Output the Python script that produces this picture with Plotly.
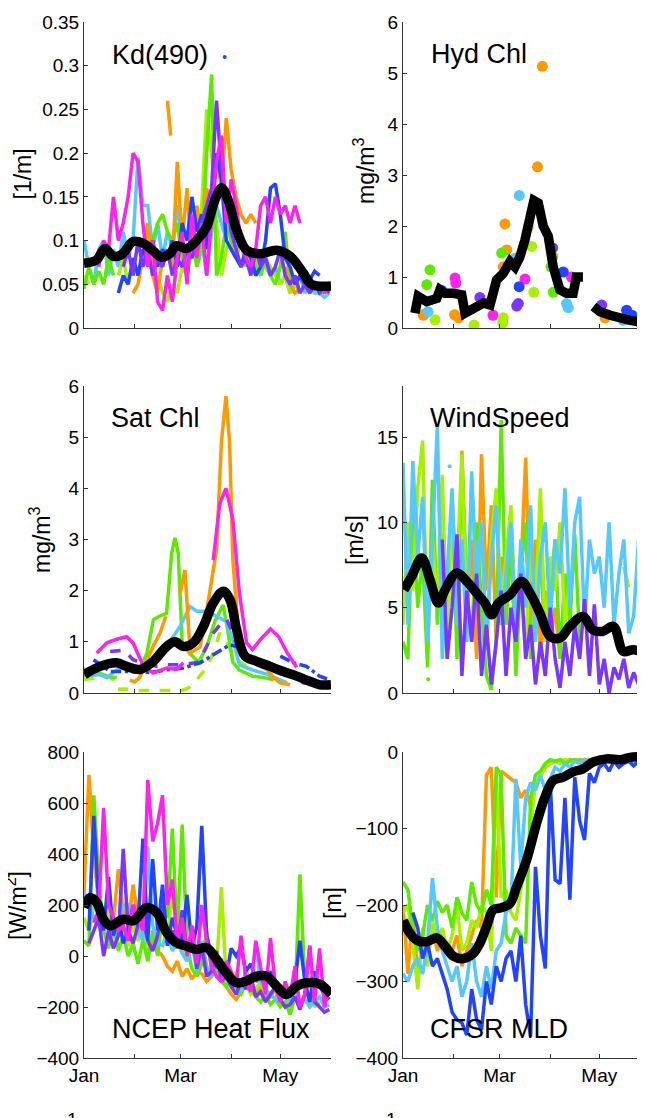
import plotly.graph_objects as go

# The page body has an 8 px margin, so the figure is drawn from page (8, 8)
# and sized so that it ends exactly at the 645 x 1118 window edge.
PAGE_W, PAGE_H = 645, 1118
OFF = 8
W, H = PAGE_W - OFF, PAGE_H - OFF
FONT = "Liberation Sans, Arial, Helvetica, sans-serif"

ORANGE = '#FF9900'
LIME = '#A6F000'
GREEN = '#5CEB00'
SKY = '#55C8FF'
BLUE = '#2244FF'
PURPLE = '#7A35FF'
MAGENTA = '#FF22EE'
BLACK = '#000000'

# ---------------- axis ticks ----------------
MONTH_TICKS = [0, 31, 59, 90, 120, 151]
MONTH_LABELS = ['Jan', '', 'Mar', '', 'May', '']
DAYS = list(range(0, 151, 3))   # sampling days (day of year - 1)

KD_TICKS = [0, 0.05, 0.1, 0.15, 0.2, 0.25, 0.3, 0.35]
KD_LABELS = ['0', '0.05', '0.1', '0.15', '0.2', '0.25', '0.3', '0.35']
CHL_TICKS = [0, 1, 2, 3, 4, 5, 6]
CHL_LABELS = ['0', '1', '2', '3', '4', '5', '6']
WIND_TICKS = [0, 5, 10, 15]
WIND_LABELS = ['0', '5', '10', '15']
HF_TICKS = [-400, -200, 0, 200, 400, 600, 800]
HF_LABELS = ['\u2212400', '\u2212200', '0', '200', '400', '600', '800']
MLD_TICKS = [-400, -300, -200, -100, 0]
MLD_LABELS = ['\u2212400', '\u2212300', '\u2212200', '\u2212100', '0']

# ---------------- Kd(490) ----------------
kd_magenta = [None, None, None, 0.07, 0.10, 0.09, 0.15, 0.10, 0.12, 0.15,
              0.20, 0.19, 0.12, 0.07, 0.10, 0.03, 0.02, 0.06, 0.03, 0.08,
              0.11, 0.05, 0.13, 0.08, 0.12, 0.06, 0.13, 0.19, 0.22, 0.12,
              0.17, 0.14, 0.10, 0.08, 0.07, 0.09, 0.14, 0.15, 0.12, 0.15,
              0.13, 0.14, 0.12, 0.14, 0.12, None, None, None, 0.05, 0.04, 0.05]
kd_sky = [0.10, 0.07, 0.05, 0.09, 0.10, 0.06, 0.09, 0.07, 0.11, 0.08,
          0.10, 0.195, 0.14, 0.14, 0.09, 0.12, 0.08, 0.11, 0.09, 0.14,
          0.10, 0.07, 0.12, 0.09, 0.10, 0.06, 0.11, 0.14, 0.12, 0.10,
          0.09, 0.08, 0.10, 0.07, 0.09, 0.06, 0.08, 0.07, 0.06, 0.07,
          0.05, 0.06, 0.04, 0.05, 0.06, 0.04, 0.05, 0.04, 0.04, 0.035, 0.04]
kd_orange = [None, None, None, None, None, None, None, None, None, None,
             0.04, 0.05, 0.08, 0.12, 0.06, 0.04, 0.08, None, 0.07, 0.19,
             0.10, 0.16, 0.08, 0.14, 0.10, 0.16, 0.12, 0.20, 0.16, 0.24,
             0.18, 0.15, 0.13, 0.12, 0.13, 0.12, None, None, None, None,
             None, 0.07, 0.05, 0.04, 0.045, None, None, None, None, None, None]
kd_orange_dash_days = [51, 53]
kd_orange_dash = [0.26, 0.22]
kd_green = [0.045, 0.07, 0.05, 0.065, 0.05, 0.08, 0.06, None, None, None,
            None, None, 0.09, 0.07, 0.10, 0.12, 0.13, 0.11, 0.10, 0.12,
            0.08, 0.06, 0.10, 0.07, 0.09, 0.20, 0.29, 0.06, 0.08, 0.12,
            0.10, 0.09, 0.10, 0.08, 0.09, 0.07, 0.06, 0.08, 0.06, 0.05,
            0.07, 0.11, 0.05, 0.04, None, None, None, None, None, None, None]
kd_lime = [0.06, 0.05, None, None, None, None, None, 0.06, 0.08, 0.05,
           None, None, None, None, None, 0.06, 0.04, 0.03, 0.05, 0.04,
           0.07, 0.06, 0.09, 0.08, 0.14, 0.25, 0.20, 0.12, 0.06, 0.09,
           0.10, 0.08, 0.11, 0.09, 0.07, 0.08, 0.06, 0.08, 0.07, 0.06,
           0.05, 0.06, 0.04, 0.05, 0.04, None, None, None, None, None, None]
kd_blue = [None, None, None, None, None, None, None, 0.04, 0.06, 0.05,
           0.08, 0.06, 0.09, 0.08, 0.10, 0.07, 0.09, 0.08, 0.10, 0.07,
           0.12, 0.10, 0.15, 0.11, 0.13, 0.09, 0.15, 0.20, 0.17, 0.10,
           0.09, 0.08, 0.07, 0.09, 0.08, 0.06, 0.07, 0.10, 0.16, 0.165,
           0.13, 0.08, 0.07, 0.05, 0.06, 0.05, 0.055, 0.065, 0.06, None, 0.06]
kd_blue_dot_days = [86]
kd_blue_dot = [0.31]
kd_purple = [None, None, None, None, None, None, None, None, 0.07, 0.09,
             0.06, 0.10, 0.07, 0.09, 0.06, 0.08, 0.07, 0.09, 0.06, 0.08,
             0.07, 0.09, 0.08, 0.10, 0.12, 0.14, 0.16, 0.26, 0.18, 0.15,
             0.11, 0.09, 0.07, 0.08, 0.06, 0.09, 0.07, 0.08, 0.06, 0.07,
             0.09, 0.06, 0.05, 0.06, 0.04, 0.05, 0.04, 0.05, 0.04, 0.045, 0.04]
kd_mean_days = [0, 7.7, 12.8, 17.9, 23, 30, 36, 42.4, 47.4, 52.5, 56.5, 62.7, 68.8,
                75, 80, 84.1, 88.2, 93.3, 99.4, 107.6, 117.8, 126, 134, 139, 151]
kd_mean = [0.074, 0.078, 0.091, 0.082, 0.084, 0.099, 0.097, 0.088, 0.081, 0.085, 0.094,
           0.091, 0.100, 0.116, 0.146, 0.160, 0.146, 0.112, 0.089, 0.085, 0.089,
           0.082, 0.063, 0.050, 0.048]

# ---------------- Hydrographic chlorophyll (bottle samples) ----------------
hyd_orange_days = [12.4, 13.5, 31.5, 34, 61.3, 62.3, 63.4, 82.2, 85.2, 123.5]
hyd_orange = [0.25, 0.28, 0.26, 0.2, 1.2, 2.04, 1.53, 3.16, 5.13, 0.2]
hyd_sky_days = [15.3, 68.5, 71.1, 100, 101, 134.6]
hyd_sky = [0.32, 1.37, 2.6, 0.48, 0.4, 0.15]
hyd_green_days = [14.5, 16.5, 60.3, 90.5, 91.5, 91.8]
hyd_green = [0.85, 1.14, 1.47, 1.2, 1.4, 0.7]
hyd_lime_days = [19.6, 43.4, 61, 61.3, 76.6, 78.6, 80]
hyd_lime = [0.16, 0.06, 0.1, 0.2, 1.98, 1.6, 0.7]
hyd_purple_days = [23.6, 47, 69.5, 70.5, 91.5, 121.5, 145]
hyd_purple = [0.74, 0.6, 0.43, 0.48, 1.57, 0.45, 0.1]
hyd_magenta_days = [31.8, 32.3, 52, 55, 74.6, 103, 146]
hyd_magenta = [0.98, 0.88, 0.49, 0.25, 0.96, 1.0, 0.15]
hyd_blue_days = [71, 98, 136.7, 140]
hyd_blue = [0.81, 1.1, 0.35, 0.25]
hyd_mean_days = [7.3, 9.3, 14.5, 20.6, 22.6, 25.7, 30.8, 35.9, 37.9, 43, 49.1, 53.2, 57.2,
                 61.3, 65.4, 68.4, 71.4, 74.5, 77.6, 80, 82.7, 85.7, 88.8, 91.8, 95.9,
                 100, 104, 106, 110, 113, 116.4, 120.5, 126.6, 132.7, 138.8, 148]
hyd_mean = [0.29, 0.62, 0.52, 0.58, 0.75, 0.68, 0.68, 0.65, 0.29, 0.39, 0.49, 0.45, 0.94,
            1.07, 1.3, 1.2, 1.39, 1.72, 2.24, 2.5, 2.45, 2.0, 1.8, 1.2, 0.75,
            0.68, 0.68, 1.0, 1.0, None, 0.42, 0.32, 0.25, 0.18, 0.15, 0.1]

# ---------------- Satellite chlorophyll ----------------
sat_orange_days = [28, 31, 34, 38.5, 42, 46.5, 50, 55, 58.8, 61.7, 64.9, 68, 71, 76, 81,
                   84, 86.8, 89, 91, 95, 100, 106, 111.7, 116, 120, 126]
sat_orange = [0.25, 0.22, 0.3, 0.65, 0.9, 1.17, 1.5, None, 1.95, 2.4, 0.78, 0.85, 0.9,
              1.8, 2.8, 4.9, 5.8, 4.9, 2.6, 0.98, 0.65, 0.55, 0.46, 0.3, 0.2, 0.16]
sat_magenta_days = [7.8, 14, 20, 26, 30, 36.3, 42.4, 50.5, 56.7, 60.7, 70, 79, 83, 86.8,
                    91, 95, 99.4, 103, 108, 114, 119, 124, 130]
sat_magenta = [0.78, 0.98, 1.05, 1.1, 0.98, 0.52, 0.39, 0.49, 0.46, 0.59, None, 2.6, 3.7,
               4.0, 3.4, 1.95, 0.98, 0.85, 1.05, 1.25, 1.1, 0.8, 0.5]
sat_green_days = [0, 7, 14, 20, 28, 36, 38.5, 42.4, 46, 50.5, 53.6, 55.6, 57.6, 60, 64, 70,
                  75, 80, 85, 88, 91, 95, 103, 110, 116]
sat_green = [0.47, 0.42, 0.33, 0.3, None, 0.6, 0.78, 1.43, 1.5, 1.56, 2.73, 3.03, 2.73,
             1.0, 0.8, 0.6, 0.9, 1.4, 1.72, 1.2, 0.6, 0.45, 0.33, 0.3, 0.26]
sat_lime_days = [0, 8, 14, 18, 20, 25, 32, 40, 50, 55, 60, 64, 70, 75, 79, 83, 87, 92, 100]
sat_lime = [0.26, 0.3, 0.33, 0.26, 0.07, 0.08, 0.05, 0.05, 0.05, 0.06, 0.05, 0.1, 0.3,
            0.5, 0.78, 1.17, 1.0, 0.7, 0.5]
sat_sky_days = [0, 10, 14, 20, 25, 35, 42, 50.5, 58.7, 64.9, 69, 75, 81, 87, 91, 95,
                103, 111.7, 118, 124]
sat_sky = [0.33, 0.36, 0.3, 0.45, 0.5, 0.45, 0.6, 0.91, 1.3, 1.69, 1.6, 1.6, 1.5, 1.4,
           1.04, 0.55, 0.45, 0.37, 0.28, 0.2]
sat_purple_days = [16, 24.4, 30, 34.6, 44.8, 50.5, 60, 70, 79, 83, 87, 91, 95, 104, 111.7,
                   120, 128, 134, 144]
sat_purple = [0.81, 0.84, 0.65, 0.6, 0.52, 0.55, 0.55, 0.6, 1.17, 1.33, 1.45, 1.17, 0.78,
              0.7, 0.6, 0.5, 0.36, 0.2, 0.16]
sat_blue_days = [5.8, 16, 26, 40, 50, 60.7, 71, 81, 89, 95, 105, 120, 128, 136, 144, 150]
sat_blue = [0.65, 0.42, 0.42, 0.4, 0.45, 0.49, 0.59, 0.78, 0.94, 0.9, None, 0.72, 0.59,
            0.52, 0.33, 0.26]
sat_mean_days = [0.2, 9.8, 20, 26, 34.2, 42.4, 50.5, 55.6, 60.7, 66.8, 73, 79, 85.2, 89.3,
                 93.3, 98.4, 105.5, 113.7, 121.8, 130, 138, 144.3, 151]
sat_mean = [0.36, 0.52, 0.59, 0.52, 0.46, 0.62, 0.91, 1.0, 0.91, 0.98, 1.3, 1.76, 1.99,
            1.82, 1.24, 0.72, 0.62, 0.52, 0.42, 0.33, 0.23, 0.16, 0.16]

# ---------------- Wind speed ----------------
wind_sky = [13.5, 4, 13.6, 8, 11.5, 3, 9, 15.7, 2, 7,
            12, 4, 9, 3, 13, 6, 10, 2.5, 8, 11,
            4, 7, 10, 3, 9, 5, 11, 3, 8, 10,
            4, 9, 7, 12, 5, 10, 11.5, 4, 9, 7,
            8, 5, 10, 4, 7, 9, 3.5, 4.5, 9, 5, 8]
wind_lime = [4, 10, 6, 12, 14.8, 3, 9, 5, 12.8, 3,
             11, 7, 14, 4, 12.5, 6, 10, 3, 9, 12,
             5, 8, 11, 4, 7, 2.5, 9, 5, 12, 3,
             8, 6, 10, 4, 7, None, None, None, None, None,
             None, None, None, None, None, 7.4, 6.2, None, None, None, None]
wind_green = [3, 2, 11, 5, 8, 1.5, 12.5, 4, 9.5, 3,
              11.8, 2, 14, 6, 3, 10, 5, 1, 0.2, 3,
              16, 4, 9, 1, 7, 10, 2, 5, 8, 3,
              6, 9, 2, 7, 4, 9.3, 3, None, None, None,
              None, None, None, None, None, None, None, None, None, None, None]
wind_orange = [None, None, None, None, None, None, None, None, None, None,
               None, None, 14.2, 4, 9, 2, 14, 6, 11, 3,
               8, 5, 10, 3, 7, 13.8, 4, 9, 2, 6,
               3, 5, 2, None, None, None, None, None, None, None,
               None, None, None, None, None, None, None, None, None, None, None]
wind_purple = [None, None, None, None, None, None, None, None, 9, 2,
               5, 9.3, 1, 6, 3, 7, 1, 4, 0.5, 3,
               6, 1, 5, 3, 7, 2, 4, 0.5, 3, 1,
               5, 2, 0.3, 3, 1, 4, 2, 5.5, 1, 5.2,
               0.5, 2, 0, 1.5, 0.8, 2, 0.3, 1.2, 0.5, 1.3, 0.8]
wind_dot_sky_days = [28.5]
wind_dot_sky = [13.3]
wind_dot_green_days = [15.4]
wind_dot_green = [0.8]
wind_mean_days = [0.6, 5.3, 11.4, 16.5, 21.6, 25.7, 32.8, 39, 45, 50.1, 54.2, 58.3, 65.4,
                  72.5, 77.6, 83.7, 89.8, 95.9, 102, 110, 116, 122, 128.6, 134.7, 140.8, 148]
wind_mean = [6.05, 6.84, 7.91, 6.64, 5.27, 6.05, 7.03, 6.54, 5.86, 5.27, 4.59, 5.27, 5.76,
             6.54, 5.86, 4.69, 3.32, 3.22, 3.91, 4.49, 3.71, 3.61, 3.91, 2.44, 2.54, 2.34]

# ---------------- NCEP heat flux ----------------
hf_orange = [250, 710, 400, 200, 150, 230, 140, 340, 180, 120,
             280, 150, 60, 30, 50, 20, 0, -40, -60, -20,
             -80, -50, -90, -60, -70, -100, -80, -50, -90, -120,
             -150, -170, -140, -100, -130, -150, -120, -140, -160, -130,
             -180, -150, -200, -160, -180, -170, -190, -150, None, None, None]
hf_green = [60, 40, 630, 300, 100, 30, 150, 20, 80, 0,
            50, -30, 60, -20, 100, 0, 200, 150, 500, 80,
            515, 40, -50, -80, -30, 100, -60, -40, -100, -120,
            -80, -140, -150, -100, -130, -160, -180, -150, -190, -170,
            -200, -180, -230, -160, 320, -100, -190, -170, -200, None, None]
hf_lime = [150, 100, 200, 260, 120, 180, 50, 150, 100, 40,
           120, 60, 200, 30, 80, 20, 150, 60, 250, 100,
           60, -20, 80, -60, 30, -70, -30, -50, 270, -100,
           -120, -60, -140, -110, -150, -130, -100, -170, -150, -120,
           -180, -200, -160, -140, -190, -150, -120, -200, -180, None, None]
hf_sky = [250, 200, 150, 120, 180, 100, 80, 120, 200, 200,
          150, 100, 60, 430, 120, 50, 40, 100, 20, 60,
          10, -20, 50, -60, 60, -40, -80, 0, -60, -90,
          -120, -100, -140, -50, -120, 40, -100, -130, -150, -170,
          -120, -160, -180, -150, -190, -170, -200, -180, -160, -200, -190]
hf_blue = [None, 100, 550, 200, 100, 310, 80, 150, 50, 100,
           200, 120, 460, 60, 380, 100, 280, 40, 150, 80,
           60, 240, 30, 120, 510, 80, 0, -40, -20, -80,
           30, 0, 35, -60, -30, -100, -80, -120, -60, -100,
           -150, -120, -160, -100, 60, -100, -180, -60, -120, -150, -170]
hf_purple = [None, 50, 100, 150, 0, 100, 30, 80, 420, 100,
             50, 120, 150, 60, 20, 80, 200, 50, 100, 30,
             180, 10, 100, -50, 40, -80, -60, 20, -100, -80,
             -120, -150, -100, -130, -80, -160, -140, -180, -150, -120,
             -170, -200, -190, -160, -210, -150, 40, -180, -200, -220, -210]
hf_magenta = [None, None, 130, 180, 580, 200, 150, 100, 120, 60,
              200, 150, 100, 690, 450, 520, 630, 200, 300, 50,
              150, 0, 120, -30, 200, 60, -40, -80, -100, -20,
              -60, -120, 80, -100, -140, 60, -50, -150, 70, -120,
              -180, -100, -160, -40, -200, -150, 40, -180, 30, -200, -130]
hf_mean_days = [0, 3.6, 7.7, 11.9, 16, 24, 30.2, 38.3, 44.4, 50.5, 56.5, 62.6, 68.8, 74.8,
                81, 87, 93.3, 99.4, 105.5, 111.6, 117.7, 123.8, 130, 136, 144.3, 151]
hf_mean = [190, 229, 210, 144, 118, 144, 138, 190, 170, 92, 52, 39, 26, 33, -13, -66, -105,
           -98, -79, -79, -118, -151, -118, -105, -111, -151]

# ---------------- CFSR mixed layer depth ----------------
mld_orange = [-200, -290, -210, -290, -250, -270, -230, -260, -240, -250,
              -260, -240, -280, -260, -240, -220, -230, -30, -20, -190,
              -25, -30, -35, -40, -60, -50, -70, -45, -30, -20,
              -15, -12, -10, -12, -10, -12, -10, -12, -10, -12,
              -10, -12, -10, -10, -12, -10, -12, -10, -10, -12, -10]
mld_green = [-170, -180, -230, -260, -240, -200, -220, -195, -210, -200,
             -230, -190, -210, -220, -170, -200, -210, -180, -200, -20,
             -30, -240, -250, -230, -240, -250, -60, -30, -25, -15,
             -10, -12, -10, -15, -12, -10, -12, -10, -12, -10,
             -12, -10, -12, -10, -10, -12, -10, -12, -10, -12, -10]
mld_lime = [-210, -200, -250, -310, -230, -280, -220, -250, -230, -260,
            -240, -200, -260, -250, -220, -230, -200, -210, -260, -30,
            -190, -180, -210, -220, -180, -150, -100, -40, -30, -20,
            -15, -12, -15, -10, -12, -10, -12, -10, -12, -10,
            -12, -10, -12, -10, -10, -12, -10, -12, -10, -12, -10]
mld_sky = [-290, -300, -280, -270, -290, -250, -165, -230, -260, -280,
           -300, -280, -320, -300, -250, -300, -320, -280, -310, -260,
           -250, -210, -200, -35, -150, -60, -40, -50, -30, -50,
           -35, -20, -25, -15, -20, -12, -15, -10, -12, -10,
           -12, -10, -12, -10, -10, -12, -10, -12, -10, -12, -10]
mld_blue = [None, None, -210, -230, -270, -250, -280, -270, -290, -310,
            -340, -350, -354, -370, -310, -350, -363, -300, -330, -280,
            -300, -270, -260, -300, -240, -330, -372, -150, -240, -283,
            -41, -167, -172, -60, -193, -33, -90, -115, -28, -40,
            -20, -15, -25, -12, -20, -15, -12, -18, -12, -15, -12]
mld_mean_days = [0.2, 4.3, 8.4, 14.5, 20.6, 25.7, 30.8, 36.9, 43, 47, 51.1, 55.2, 59.3,
                 65.4, 69.5, 75.6, 81.7, 86.8, 91.9, 98, 104, 110, 116.4, 124.5, 132.7,
                 138.8, 148]
mld_mean = [-220, -237, -246, -248, -243, -254, -267, -270, -263, -250, -228, -206, -204,
            -198, -176, -141, -93, -59, -37, -33, -26, -22, -13, -9, -10, -7, -6]


# ---------------- layout geometry (page pixel -> paper fraction) ----------------
def fx(p):
    return (p - OFF) / W


def fy(p):
    return 1 - (p - OFF) / H


PX_PER_DAY = (331 - 84) / 151.0
LEFT = [fx(84), fx(331)]
RIGHT = [fx(403), 1.0]
RIGHT_MAX = (PAGE_W - 403) / PX_PER_DAY
ROWS = [[fy(328), fy(22)], [fy(693), fy(386)], [fy(1058), fy(752)]]

fig = go.Figure()


def ax(k, kind):
    return (kind if k == 1 else f'{kind}{k}')


LW = 3.5
MW = 9.5


def line(k, x, y, color, width=LW, dash='solid', shape='linear'):
    fig.add_trace(go.Scatter(x=x, y=y, mode='lines', xaxis=ax(k, 'x'), yaxis=ax(k, 'y'),
                             line=dict(color=color, width=width, dash=dash, shape=shape),
                             hoverinfo='skip', showlegend=False))


def dots(k, x, y, color, size):
    fig.add_trace(go.Scatter(x=x, y=y, mode='markers', xaxis=ax(k, 'x'), yaxis=ax(k, 'y'),
                             marker=dict(color=color, size=size, line=dict(width=0)),
                             hoverinfo='skip', showlegend=False))


# Panel 1: Kd(490)
for ser, col in [(kd_sky, SKY), (kd_lime, LIME), (kd_green, GREEN), (kd_orange, ORANGE),
                 (kd_blue, BLUE), (kd_purple, PURPLE), (kd_magenta, MAGENTA)]:
    line(1, DAYS, ser, col)
line(1, kd_orange_dash_days, kd_orange_dash, ORANGE)
dots(1, kd_blue_dot_days, kd_blue_dot, BLUE, 4)
line(1, kd_mean_days, kd_mean, BLACK, MW, shape='spline')

# Panel 2: Hyd Chl
for dx, dy, col in [(hyd_orange_days, hyd_orange, ORANGE), (hyd_sky_days, hyd_sky, SKY),
                    (hyd_green_days, hyd_green, GREEN), (hyd_lime_days, hyd_lime, LIME),
                    (hyd_purple_days, hyd_purple, PURPLE), (hyd_magenta_days, hyd_magenta, MAGENTA),
                    (hyd_blue_days, hyd_blue, BLUE)]:
    dots(2, dx, dy, col, 11)
line(2, hyd_mean_days, hyd_mean, BLACK, MW)

# Panel 3: Sat Chl
line(3, sat_lime_days, sat_lime, LIME, dash='dash')
line(3, sat_green_days, sat_green, GREEN)
line(3, sat_sky_days, sat_sky, SKY)
line(3, sat_orange_days, sat_orange, ORANGE)
line(3, sat_purple_days, sat_purple, PURPLE, dash='dash')
line(3, sat_blue_days, sat_blue, BLUE, dash='dashdot')
line(3, sat_magenta_days, sat_magenta, MAGENTA)
line(3, sat_mean_days, sat_mean, BLACK, MW, shape='spline')

# Panel 4: WindSpeed
for ser, col in [(wind_orange, ORANGE), (wind_green, GREEN), (wind_lime, LIME),
                 (wind_sky, SKY), (wind_purple, PURPLE)]:
    line(4, DAYS, ser, col)
dots(4, wind_dot_sky_days, wind_dot_sky, SKY, 4)
dots(4, wind_dot_green_days, wind_dot_green, GREEN, 4)
line(4, wind_mean_days, wind_mean, BLACK, MW, shape='spline')

# Panel 5: NCEP Heat Flux
for ser, col in [(hf_orange, ORANGE), (hf_lime, LIME), (hf_green, GREEN), (hf_sky, SKY),
                 (hf_purple, PURPLE), (hf_blue, BLUE), (hf_magenta, MAGENTA)]:
    line(5, DAYS, ser, col)
line(5, hf_mean_days, hf_mean, BLACK, MW, shape='spline')

# Panel 6: CFSR MLD
for ser, col in [(mld_orange, ORANGE), (mld_lime, LIME), (mld_green, GREEN),
                 (mld_sky, SKY), (mld_blue, BLUE)]:
    line(6, DAYS, ser, col)
line(6, mld_mean_days, mld_mean, BLACK, MW, shape='spline')

# ---------------- axes ----------------
AXSTYLE = dict(showline=True, linecolor='#333333', linewidth=1, ticks='inside', ticklen=4,
               tickwidth=1, tickcolor='#333333', showgrid=False, zeroline=False,
               automargin=False,
               tickfont=dict(family=FONT, size=19, color='black'), fixedrange=True)

panels = [
    (0, 0, [0, 0.35], KD_TICKS, KD_LABELS),
    (0, 1, [0, 6], CHL_TICKS, CHL_LABELS),
    (1, 0, [0, 6], CHL_TICKS, CHL_LABELS),
    (1, 1, [0, 18], WIND_TICKS, WIND_LABELS),
    (2, 0, [-400, 800], HF_TICKS, HF_LABELS),
    (2, 1, [-400, 0], MLD_TICKS, MLD_LABELS),
]
layout_axes = {}
for k, (row, col, yr, yt, ytt) in enumerate(panels, start=1):
    xlab = MONTH_LABELS if row == 2 else ['', '', '', '', '', '']
    layout_axes[ax(k, 'xaxis')] = dict(domain=LEFT if col == 0 else RIGHT,
                                       range=[0, 151] if col == 0 else [0, RIGHT_MAX],
                                       tickvals=MONTH_TICKS, ticktext=xlab,
                                       anchor=ax(k, 'y'), **AXSTYLE)
    layout_axes[ax(k, 'yaxis')] = dict(domain=ROWS[row], range=yr, tickvals=yt, ticktext=ytt,
                                       anchor=ax(k, 'x'), **AXSTYLE)

annotations = []
# panel titles
for text, xl, yc in [('Kd(490)', 110, 55), ('Hyd Chl', 429, 54), ('Sat Chl', 109, 418),
                     ('WindSpeed', 428, 418), ('NCEP Heat Flux', 110, 1029), ('CFSR MLD', 428, 1029)]:
    annotations.append(dict(text=text, x=fx(xl), y=fy(yc), xref='paper', yref='paper',
                            xanchor='left', yanchor='middle', showarrow=False,
                            font=dict(family=FONT, size=27, color='black')))
# y-axis labels
for text, xc, yc in [('[1/m]', 22.5, 174), ('mg/m<sup>3</sup>', 364, 171),
                     ('mg/m<sup>3</sup>', 40, 540), ('[m/s]', 355, 540),
                     ('[W/m<sup>2</sup>]', 16, 906), ('[m]', 333, 903)]:
    annotations.append(dict(text=text, x=fx(xc), y=fy(yc), xref='paper', yref='paper',
                            xanchor='center', yanchor='middle', textangle=-90, showarrow=False,
                            font=dict(family=FONT, size=23, color='black')))
# cropped tick labels of the next row at the very bottom
for xc in [72, 392]:
    annotations.append(dict(text='1', x=fx(xc), y=fy(1107), xref='paper', yref='paper',
                            xanchor='center', yanchor='top', showarrow=False,
                            font=dict(family=FONT, size=19, color='black')))

fig.update_layout(width=W, height=H, autosize=False,
                  margin=dict(l=0, r=0, t=0, b=0, pad=0),
                  paper_bgcolor='white', plot_bgcolor='white',
                  showlegend=False, annotations=annotations, **layout_axes)

fig.write_html("out.html")
